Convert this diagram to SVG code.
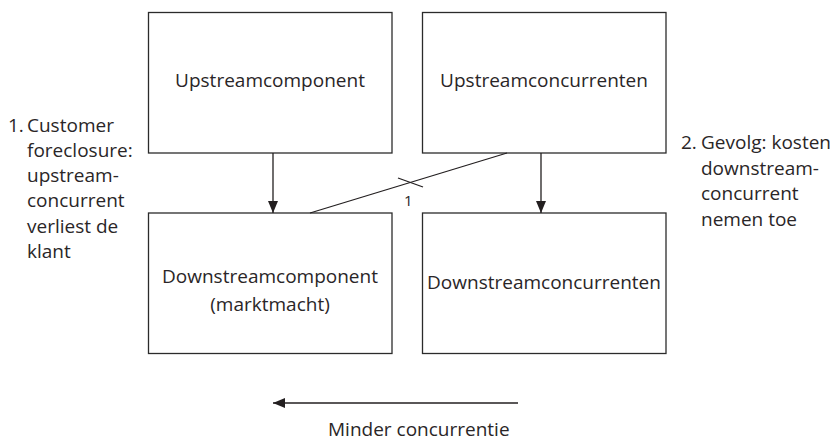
<svg xmlns="http://www.w3.org/2000/svg" width="834" height="441" viewBox="0 0 834 441">
  <style>
    .box { fill: #ffffff; stroke: #2b2b2b; stroke-width: 1.3; }
    .lbl { font-family: "Open Sans", "Noto Sans", sans-serif; font-size: 19px; fill: #2a2627; }
    .mid { text-anchor: middle; }
    .wire { fill: none; stroke: #231f20; stroke-width: 1.3; }
  </style>
  <defs>
    <marker id="head" viewBox="0 0 12 10" refX="12" refY="5" markerWidth="12" markerHeight="10" markerUnits="userSpaceOnUse" orient="auto">
      <path d="M0,0 L12,5 L0,10 Z" fill="#231f20"/>
    </marker>
  </defs>
  <rect width="834" height="441" fill="#ffffff"/>

  <g id="upstreamcomponent">
    <rect class="box" x="148.5" y="12.5" width="243.5" height="140.5"/>
    <text class="lbl mid" x="270" y="87">Upstreamcomponent</text>
  </g>
  <g id="upstreamconcurrenten">
    <rect class="box" x="422.5" y="12.5" width="243.5" height="140.5"/>
    <text class="lbl mid" x="544" y="87">Upstreamconcurrenten</text>
  </g>
  <g id="downstreamcomponent">
    <rect class="box" x="148.5" y="213" width="243.5" height="140.5"/>
    <text class="lbl mid" x="270" y="283">Downstreamcomponent</text>
    <text class="lbl mid" x="270" y="311">(marktmacht)</text>
  </g>
  <g id="downstreamconcurrenten">
    <rect class="box" x="422.5" y="213" width="243.5" height="140.5"/>
    <text class="lbl mid" x="544" y="289">Downstreamconcurrenten</text>
  </g>

  <g id="note-left">
    <text class="lbl" x="8" y="132">1.</text>
    <text class="lbl" x="27" y="132">Customer</text>
    <text class="lbl" x="27" y="157">foreclosure:</text>
    <text class="lbl" x="27" y="182">upstream-</text>
    <text class="lbl" x="27" y="207">concurrent</text>
    <text class="lbl" x="27" y="233">verliest de</text>
    <text class="lbl" x="27" y="258">klant</text>
  </g>
  <g id="note-right">
    <text class="lbl" x="681" y="149">2.</text>
    <text class="lbl" x="701" y="149">Gevolg: kosten</text>
    <text class="lbl" x="701" y="175">downstream-</text>
    <text class="lbl" x="701" y="200">concurrent</text>
    <text class="lbl" x="701" y="226">nemen toe</text>
  </g>

  <g id="connectors">
    <line class="wire" x1="273" y1="153" x2="273" y2="213" marker-end="url(#head)"/>
    <line class="wire" x1="541" y1="153" x2="541" y2="213" marker-end="url(#head)"/>
    <line class="wire" x1="507" y1="153" x2="310" y2="213"/>
    <line class="wire" x1="398" y1="178" x2="423" y2="187"/>
    <text class="lbl" x="404" y="206" style="font-size:15px">1</text>
    <line class="wire" x1="518" y1="403" x2="273" y2="403" marker-end="url(#head)"/>
    <text class="lbl" x="328" y="436">Minder concurrentie</text>
  </g>
</svg>
